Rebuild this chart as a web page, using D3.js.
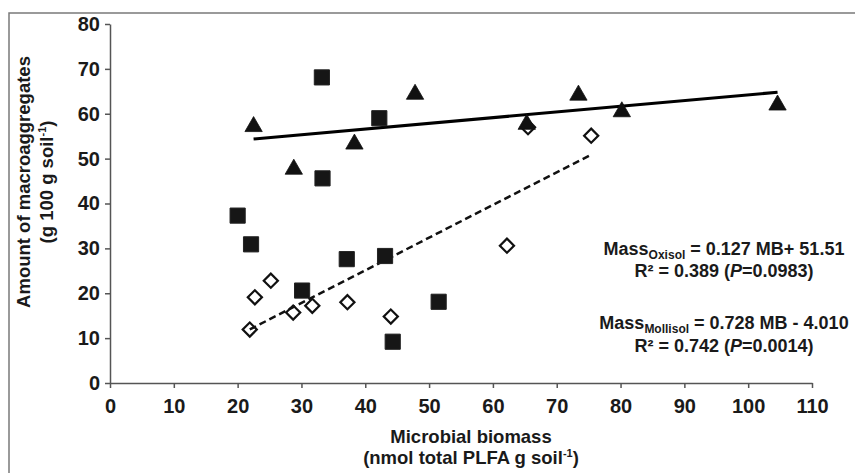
<!DOCTYPE html>
<html><head><meta charset="utf-8">
<script src="https://cdn.jsdelivr.net/npm/d3@7"></script>
<style>
body{margin:0;background:#fff}
text{font-family:"Liberation Sans",Arial,Helvetica,sans-serif;font-weight:bold;fill:#1a1a1a}
</style>
</head><body>
<svg id="chart" width="855" height="473"></svg>
<script>
// ---- data ----
const oxisolX = [22.5, 28.8, 38.3, 47.8, 65.3, 73.4, 80.2, 104.6];
const oxisolY = [57.7, 48.2, 53.8, 64.9, 58.2, 64.7, 61.0, 62.5];

const squareX = [20.0, 22.1, 30.1, 33.2, 33.3, 37.1, 42.2, 43.1, 44.3, 51.5];
const squareY = [37.3, 30.9, 20.6, 68.1, 45.6, 27.6, 59.0, 28.3, 9.2, 18.1];

const mollisolX = [21.9, 22.7, 25.2, 28.7, 31.7, 37.2, 44.0, 62.2, 65.5, 75.4];
const mollisolY = [11.9, 19.1, 22.8, 15.7, 17.2, 18.0, 14.8, 30.6, 57.0, 55.1];

const oxisolSlope = 0.127, oxisolIntercept = 51.51;
const mollisolSlope = 0.728, mollisolIntercept = -4.010;

const xTickValues = [0,10,20,30,40,50,60,70,80,90,100,110];
const yTickValues = [0,10,20,30,40,50,60,70,80];

const yTitleLines = ["Amount of macroaggregates", "(g 100 g soil", "-1", ")"];
const xTitleLine1 = "Microbial biomass";

// ---- layout ----
const svg = d3.select("#chart");
const plot = {left:110, right:812, top:24, bottom:383};
const x = d3.scaleLinear().domain([0,110]).range([plot.left, plot.right]);
const y = d3.scaleLinear().domain([0,80]).range([plot.bottom, plot.top]);

// frame
svg.append("path").attr("d","M9,473V13H855").attr("fill","none")
  .attr("stroke","#7a7a7a").attr("stroke-width",1.5);

// axes
const yAxis = svg.append("g").attr("transform",`translate(${plot.left},0)`)
  .call(d3.axisLeft(y).tickValues(yTickValues).tickSize(5).tickSizeOuter(0).tickPadding(5));
const xAxis = svg.append("g").attr("transform",`translate(0,${plot.bottom})`)
  .call(d3.axisBottom(x).tickValues(xTickValues).tickSize(5).tickSizeOuter(0).tickPadding(11));
[yAxis,xAxis].forEach(g=>{
  g.selectAll("path,line").attr("stroke","#555").attr("stroke-width",1.5);
  g.selectAll("text").style("font-size","20px").attr("fill","#1a1a1a")
   .style("font-family","'Liberation Sans',Arial,sans-serif").style("font-weight","bold");
});

// regression lines
const line = d3.line().x(d=>x(d[0])).y(d=>y(d[1]));
const oxExt = d3.extent(oxisolX), moExt = d3.extent(mollisolX);
svg.append("path")
  .attr("d", line(oxExt.map(v=>[v, oxisolSlope*v+oxisolIntercept])))
  .attr("stroke","#000").attr("stroke-width",3).attr("fill","none");
svg.append("path")
  .attr("d", line(moExt.map(v=>[v, mollisolSlope*v+mollisolIntercept])))
  .attr("stroke","#111").attr("stroke-width",2.5).attr("stroke-dasharray","7,4").attr("fill","none");

// custom triangle centred on its bounding box
const triBox = {draw(ctx,size){const s=Math.sqrt(size*4/Math.sqrt(3));const h=s*Math.sqrt(3)/2;
  ctx.moveTo(0,-h/2);ctx.lineTo(s/2,h/2);ctx.lineTo(-s/2,h/2);ctx.closePath();}};

// markers
svg.append("g").selectAll("path").data(d3.zip(mollisolX,mollisolY)).join("path")
  .attr("d", d3.symbol(d3.symbolSquare, 100)())
  .attr("transform", d=>`translate(${x(d[0])},${y(d[1])}) rotate(45)`)
  .attr("fill","none").attr("stroke","#111").attr("stroke-width",2.2);

svg.append("g").selectAll("path").data(d3.zip(squareX,squareY)).join("path")
  .attr("d", d3.symbol(d3.symbolSquare, 230)())
  .attr("transform", d=>`translate(${x(d[0])},${y(d[1])})`)
  .attr("fill","#161616").attr("stroke","#222").attr("stroke-width",1).attr("stroke-linejoin","round");

svg.append("g").selectAll("path").data(d3.zip(oxisolX,oxisolY)).join("path")
  .attr("d", d3.symbol(triBox, 130)())
  .attr("transform", d=>`translate(${x(d[0])},${y(d[1])})`)
  .attr("fill","#111").attr("stroke","#111").attr("stroke-width",0.8);

// y title
svg.append("text").attr("transform","translate(30,182) rotate(-90)")
  .attr("text-anchor","middle").style("font-size","18.5px").text(yTitleLines[0]);
const yt2 = svg.append("text").attr("transform","translate(53,182) rotate(-90)")
  .attr("text-anchor","middle").style("font-size","18.5px");
yt2.append("tspan").text(yTitleLines[1]);
yt2.append("tspan").attr("dy",-7).style("font-size","11px").text(yTitleLines[2]);
yt2.append("tspan").attr("dy",7).text(yTitleLines[3]);

// x title
svg.append("text").attr("x",471).attr("y",443).attr("text-anchor","middle")
  .style("font-size","18.5px").text(xTitleLine1);
const xt2 = svg.append("text").attr("x",471).attr("y",464).attr("text-anchor","middle").style("font-size","18.5px");
xt2.append("tspan").text("(nmol total PLFA g soil");
xt2.append("tspan").attr("dy",-7).style("font-size","11px").text("-1");
xt2.append("tspan").attr("dy",7).text(")");

// equations
function eq(yPos, sub, rest){
  const t = svg.append("text").attr("x",724).attr("y",yPos).attr("text-anchor","middle").style("font-size","18px");
  t.append("tspan").text("Mass");
  t.append("tspan").attr("dy",4).style("font-size","12px").text(sub);
  t.append("tspan").attr("dy",-4).text(rest);
}
function r2(yPos, r, p){
  const t = svg.append("text").attr("x",724).attr("y",yPos).attr("text-anchor","middle").style("font-size","18px");
  t.append("tspan").text(`R² = ${r} (`);
  t.append("tspan").style("font-style","italic").text("P");
  t.append("tspan").text(`=${p})`);
}
eq(255, "Oxisol", ` = ${oxisolSlope} MB+ ${oxisolIntercept}`);
r2(277, "0.389", "0.0983");
eq(329, "Mollisol", ` = ${mollisolSlope} MB - ${Math.abs(mollisolIntercept).toFixed(3)}`);
r2(352, "0.742", "0.0014");
</script>
</body></html>
